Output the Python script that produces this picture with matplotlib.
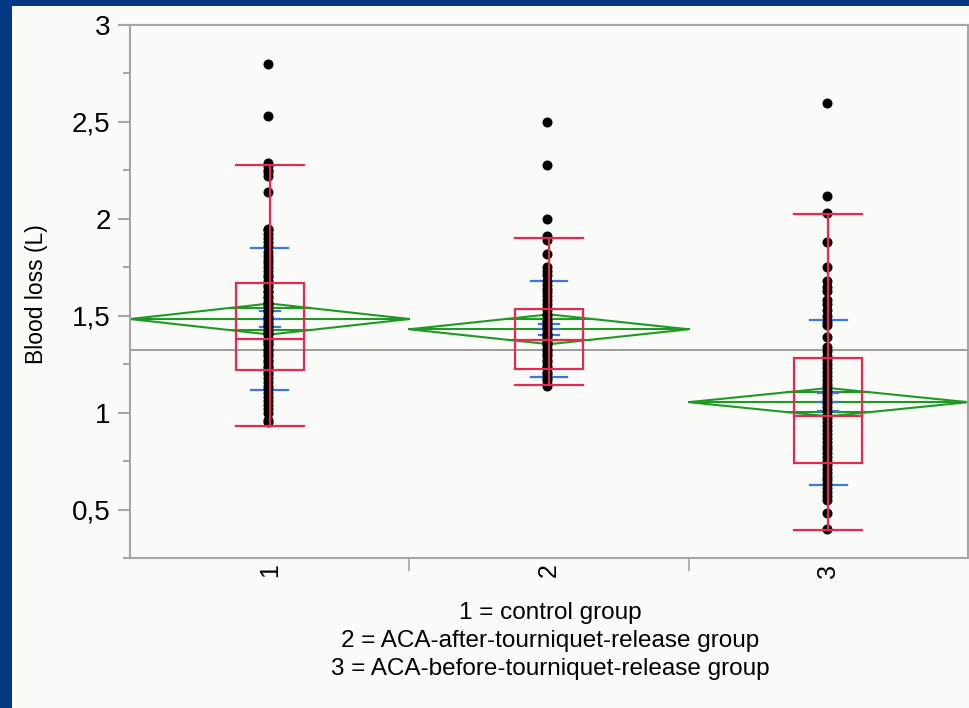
import numpy as np
import matplotlib
matplotlib.use("Agg")
import matplotlib.pyplot as plt
from matplotlib.patches import Rectangle, Polygon

plt.rcParams['font.family'] = ['Liberation Sans', 'DejaVu Sans']

# groups on the x axis
groups = [1, 2, 3]
group_labels = ["1", "2", "3"]
notes = ["1 = control group",
         "2 = ACA-after-tourniquet-release group",
         "3 = ACA-before-tourniquet-release group"]

# individual blood loss values (L)
loss_g1 = [2.80, 2.53, 2.29, 2.27, 2.25, 2.24, 2.22, 2.14, 1.95, 1.94, 1.92, 1.90,
           1.88, 1.86, 1.83, 1.81, 1.79, 1.77, 1.75, 1.73, 1.71, 1.70, 1.68, 1.66,
           1.65, 1.63, 1.62, 1.60, 1.59, 1.57, 1.56, 1.55, 1.53, 1.52, 1.50, 1.49,
           1.48, 1.46, 1.45, 1.44, 1.42, 1.41, 1.40, 1.38, 1.37, 1.36, 1.35, 1.33,
           1.32, 1.30, 1.29, 1.27, 1.26, 1.24, 1.23, 1.21, 1.20, 1.18, 1.16, 1.14,
           1.12, 1.10, 1.08, 1.06, 1.04, 1.02, 1.00, 0.96, 0.95]
loss_g2 = [2.50, 2.28, 2.00, 1.91, 1.89, 1.82, 1.75, 1.73, 1.71, 1.68, 1.66, 1.64,
           1.62, 1.60, 1.58, 1.56, 1.54, 1.53, 1.51, 1.50, 1.48, 1.47, 1.45, 1.44,
           1.43, 1.41, 1.40, 1.39, 1.37, 1.36, 1.35, 1.33, 1.32, 1.30, 1.29, 1.27,
           1.26, 1.24, 1.23, 1.21, 1.20, 1.18, 1.17, 1.15, 1.14]
loss_g3 = [2.60, 2.12, 2.03, 1.88, 1.75, 1.68, 1.65, 1.63, 1.58, 1.56, 1.53, 1.50,
           1.47, 1.45, 1.39, 1.34, 1.32, 1.29, 1.27, 1.25, 1.23, 1.21, 1.19, 1.17,
           1.15, 1.13, 1.11, 1.09, 1.07, 1.05, 1.03, 1.01, 0.99, 0.97, 0.95, 0.93,
           0.91, 0.89, 0.87, 0.85, 0.83, 0.81, 0.79, 0.77, 0.75, 0.73, 0.71, 0.69,
           0.67, 0.65, 0.63, 0.61, 0.59, 0.57, 0.55, 0.48, 0.40]
all_loss = [loss_g1, loss_g2, loss_g3]

# box plot summary
q1 = [1.220, 1.223, 0.742]
median = [1.380, 1.375, 0.982]
q3 = [1.670, 1.533, 1.280]
whisk_lo = [0.932, 1.143, 0.394]
whisk_hi = [2.278, 1.899, 2.025]

# means diamonds / std dev lines / error bars
means = [1.483, 1.430, 1.054]
ci_half = [0.080, 0.077, 0.073]
sd = [0.368, 0.247, 0.425]
se = [0.040, 0.028, 0.046]
grand_mean = 1.323

yticks = [0.5, 1, 1.5, 2, 2.5, 3]
ytick_labels = ["0,5", "1", "1,5", "2", "2,5", "3"]
yminor = [0.25, 0.75, 1.25, 1.75, 2.25, 2.75]

RED = '#e8294f'
GREEN = '#1e9a24'
BLUE = '#3a78e8'
BG = '#fbfbf9'
FRAME = '#a6a6a6'

fig = plt.figure(figsize=(9.69, 7.08), dpi=100, facecolor='#043885')
fig.add_artist(Rectangle((12 / 969, 0), 1, 1 - 6 / 708, transform=fig.transFigure,
                         facecolor=BG, edgecolor='none', zorder=0))
ax = fig.add_axes([130 / 969, 1 - 558 / 708, 838 / 969, 533 / 708])
ax.set_facecolor(BG)

ax.axhline(grand_mean, color='#8c8c8c', lw=1.2, zorder=1)

box_hw = 0.122
for i, g in enumerate(groups):
    m, h = means[i], ci_half[i]
    # means diamond
    ax.add_patch(Polygon([(g - 0.5, m), (g, m + h), (g + 0.5, m), (g, m - h)],
                         closed=True, fill=False, edgecolor=GREEN, lw=1.5, zorder=2))
    ax.plot([g - 0.5, g + 0.5], [m, m], color=GREEN, lw=1.5, zorder=2)
    ov = h / np.sqrt(2)
    half_w = 0.5 * (1 - 1 / np.sqrt(2))
    for yy in (m + ov, m - ov):
        ax.plot([g - half_w, g + half_w], [yy, yy], color=GREEN, lw=1.5, zorder=2)

    # std dev lines and mean error bars
    for yy in (m + sd[i], m - sd[i]):
        ax.plot([g - 0.066, g + 0.066], [yy, yy], color=BLUE, lw=1.6, zorder=3)
    for yy in (m + se[i], m, m - se[i]):
        ax.plot([g - 0.036, g + 0.036], [yy, yy], color=BLUE, lw=1.6, zorder=3)

    # dots
    ax.scatter([g - 0.006] * len(all_loss[i]), all_loss[i], s=52, color='black',
               linewidths=0, zorder=4)

    # outlier box plot
    ax.add_patch(Rectangle((g - box_hw, q1[i]), 2 * box_hw, q3[i] - q1[i], fill=False,
                           edgecolor=RED, lw=1.6, zorder=5))
    ax.plot([g - box_hw, g + box_hw], [median[i], median[i]], color=RED, lw=1.6, zorder=5)
    ax.plot([g, g], [whisk_lo[i], whisk_hi[i]], color=RED, lw=1.6, zorder=5)
    for yy in (whisk_lo[i], whisk_hi[i]):
        ax.plot([g - box_hw, g + box_hw], [yy, yy], color=RED, lw=1.6, zorder=5)

ax.set_xlim(0.5, 3.5)
ax.set_ylim(0.25, 3)

ax.set_yticks(yticks)
ax.set_yticklabels(ytick_labels, fontsize=20)
ax.set_yticks(yminor, minor=True)
ax.set_xticks([1.5, 2.5])
ax.set_xticklabels([])
ax.set_xticks(groups, minor=True)
ax.set_xticklabels(group_labels, minor=True, rotation=90, fontsize=18, va='top')
ax.tick_params(axis='y', which='major', length=9, width=1.5, color=FRAME, pad=5)
ax.tick_params(axis='y', which='minor', length=5, width=1.5, color=FRAME)
ax.tick_params(axis='x', which='major', length=9, width=1.2, color=FRAME)
ax.tick_params(axis='x', which='minor', length=0, pad=4)

for sp in ax.spines.values():
    sp.set_color(FRAME)
    sp.set_linewidth(1.5)

fig.text(37 / 969, 1 - 294 / 708, "Blood loss (L)", rotation=90, ha='center',
         va='center', fontsize=16.5)

for k, line in enumerate(notes):
    fig.text(550 / 969, 1 - (613 + 28 * k) / 708, line, ha='center', va='center',
             fontsize=17.5)

fig.savefig("out.png", dpi=100, facecolor=fig.get_facecolor())
